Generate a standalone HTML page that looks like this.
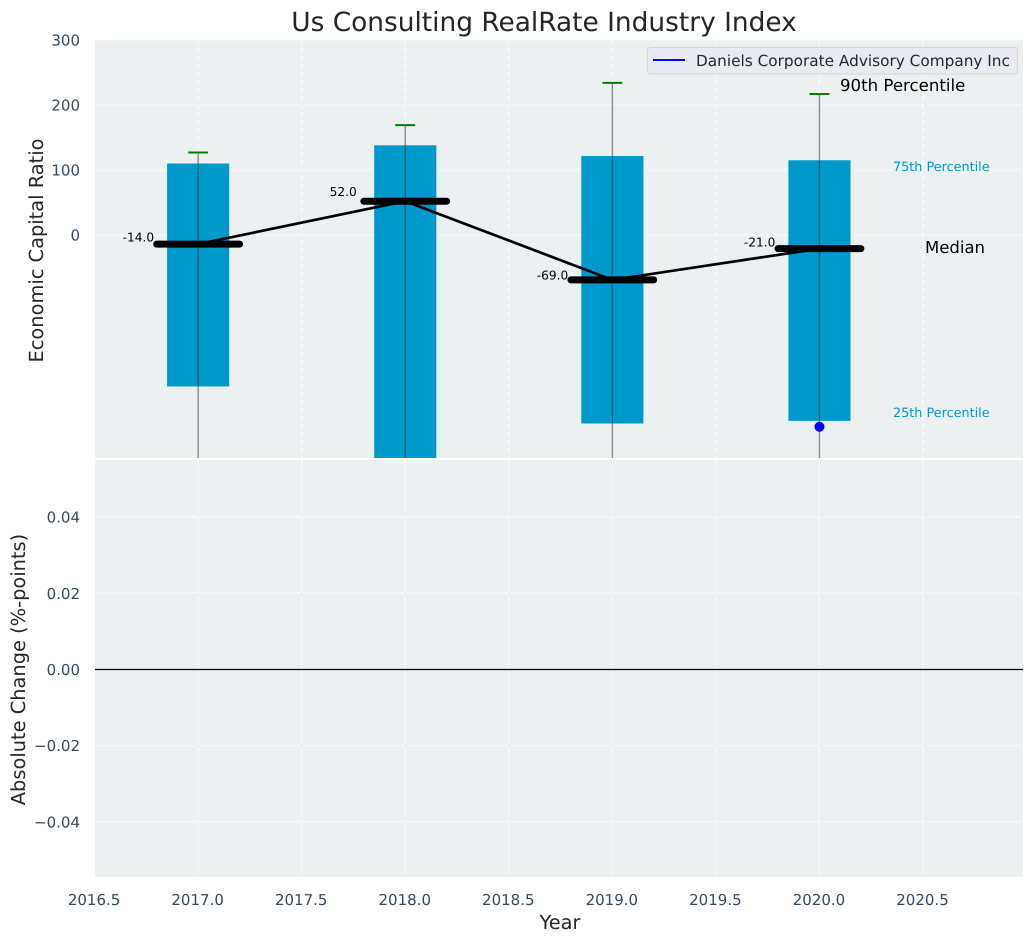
<!DOCTYPE html>
<html lang="en">
<head>
<meta charset="utf-8">
<title>Us Consulting RealRate Industry Index</title>
<style>
html,body{margin:0;padding:0;background:#fff;width:1034px;height:942px;overflow:hidden}
svg{display:block;font-family:"DejaVu Sans","Liberation Sans",sans-serif;text-rendering:geometricPrecision}
</style>
</head>
<body>
<svg id="chart" xmlns="http://www.w3.org/2000/svg" width="1034" height="942" viewBox="0 0 1034 942">
  <defs>
    <clipPath id="clip-top"><rect x="95" y="40" width="928" height="418"/></clipPath>
    <clipPath id="clip-bottom"><rect x="95" y="460" width="928" height="417"/></clipPath>
  </defs>
  <rect x="95" y="40" width="928" height="418" fill="#ecf0f1"/>
  <rect x="95" y="460" width="928" height="417" fill="#ecf0f1"/>
  <g id="grid-top"></g>
  <g id="grid-bottom"></g>
  <g id="marks-top" clip-path="url(#clip-top)"></g>
  <g id="marks-bottom" clip-path="url(#clip-bottom)"></g>
  <g id="ticks"></g>
  <g id="value-labels"></g>

  <text x="544" y="31" font-size="26.4" fill="#262626" text-anchor="middle">Us Consulting RealRate Industry Index</text>
  <text transform="translate(43,250.5) rotate(-90)" font-size="19.4" fill="#262626" text-anchor="middle">Economic Capital Ratio</text>
  <text transform="translate(25,669.5) rotate(-90)" font-size="19.4" fill="#262626" text-anchor="middle">Absolute Change (%-points)</text>
  <text x="560" y="929" font-size="19.4" fill="#262626" text-anchor="middle">Year</text>

  <text x="840" y="91" font-size="16.6" fill="#000">90th Percentile</text>
  <text x="893" y="171" font-size="12.8" fill="#0099cc">75th Percentile</text>
  <text x="925" y="253" font-size="16.5" fill="#000">Median</text>
  <text x="893" y="417" font-size="12.8" fill="#0099cc">25th Percentile</text>

  <g>
    <rect x="647.5" y="47.5" width="370" height="26.5" rx="3" fill="#eaeaf2" stroke="#d6d6dc" stroke-width="1"/>
    <line x1="653" y1="60" x2="685" y2="60" stroke="#0000ff" stroke-width="2"/>
    <text x="696" y="66" font-size="15.3" fill="#262626">Daniels Corporate Advisory Company Inc</text>
  </g>
</svg>
<script>
// Chart data
var years = [2017, 2018, 2019, 2020];
var p90 = [127, 169, 234, 217];
var p75 = [110, 138, 121.5, 115];
var medians = [-14, 52, -69, -21];
var p25 = [-233, -350, -290, -286];
var p10 = [-400, -420, -410, -400];
var companyYears = [2020];
var companyValues = [-295];
var xTickLabels = [2016.5, 2017, 2017.5, 2018, 2018.5, 2019, 2019.5, 2020, 2020.5];
var yTopTickLabels = [0, 100, 200, 300];
var yBottomTickLabels = [-0.04, -0.02, 0, 0.02, 0.04];
var changeZero = [0];

var NS = 'http://www.w3.org/2000/svg';
function xScale(v) { return 94.6 + (v - 2016.5) * 207.1; }
function yTop(v) { return 235 - v * 0.65; }
function yBottom(v) { return 669.5 - v * 3812; }
function make(tag, parent, attrs, text) {
  var el = document.createElementNS(NS, tag);
  for (var k in attrs) el.setAttribute(k, attrs[k]);
  if (text !== undefined) el.textContent = text;
  parent.appendChild(el);
  return el;
}
var gridTop = document.getElementById('grid-top');
var gridBottom = document.getElementById('grid-bottom');
var marksTop = document.getElementById('marks-top');
var marksBottom = document.getElementById('marks-bottom');
var ticks = document.getElementById('ticks');
var valueLabels = document.getElementById('value-labels');
var gridStyle = { stroke: '#ffffff', 'stroke-width': 1.1, 'stroke-dasharray': '5 3', opacity: 0.9 };
function withGrid(o) { for (var k in gridStyle) o[k] = gridStyle[k]; return o; }

// Vertical gridlines and x tick labels
xTickLabels.forEach(function (t) {
  var x = xScale(t);
  var a = make('line', gridTop, withGrid({ x1: x, x2: x, y1: 40, y2: 458 }));
  
  
  var b = make('line', gridBottom, withGrid({ x1: x, x2: x, y1: 460, y2: 877 }));
  
  
  var l = make('text', ticks, { x: x - 0.5, y: 905, 'font-size': 15, fill: '#34495e', 'text-anchor': 'middle' }, t.toFixed(1));
  
  
});

// Top axis horizontal gridlines and labels
yTopTickLabels.forEach(function (t) {
  var y = yTop(t);
  var a = make('line', gridTop, withGrid({ x1: 95, x2: 1023, y1: y, y2: y }));
  
  
  var l = make('text', ticks, { x: 80, y: y + 5.5, 'font-size': 15, fill: '#34495e', 'text-anchor': 'end' }, String(t));
  
  
});

// Bottom axis horizontal gridlines and labels
yBottomTickLabels.forEach(function (t) {
  var y = yBottom(t);
  var a = make('line', gridBottom, withGrid({ x1: 95, x2: 1023, y1: y, y2: y }));
  
  
  var txt = (t < 0 ? '\u2212' : '') + Math.abs(t).toFixed(2);
  var l = make('text', ticks, { x: 80, y: y + 5.5, 'font-size': 15, fill: '#34495e', 'text-anchor': 'end' }, txt);
  
  
});

// Interquartile bars
years.forEach(function (yr, i) {
  var top = yTop(p75[i]);
  var bot = yTop(p25[i]);
  var r = make('rect', marksTop, { x: xScale(yr - 0.15), y: top, width: xScale(yr + 0.15) - xScale(yr - 0.15), height: bot - top, fill: '#0099cc' });
  
  
});

// Whiskers
years.forEach(function (yr, i) {
  var w = make('line', marksTop, { x1: xScale(yr), x2: xScale(yr), y1: yTop(p90[i]), y2: yTop(p10[i]), stroke: '#333333', 'stroke-opacity': 0.55, 'stroke-width': 1.4 });
  
  
  var c = make('line', marksTop, { x1: xScale(yr - 0.048), x2: xScale(yr + 0.048), y1: yTop(p90[i]), y2: yTop(p90[i]), stroke: '#008000', 'stroke-width': 2 });
  
  
});

// Median connecting line
var medianPoints = years.map(function (yr, i) { return xScale(yr) + ',' + yTop(medians[i]); }).join(' ');
var ml = make('polyline', marksTop, { points: medianPoints, fill: 'none', stroke: '#000', 'stroke-width': 2.7, 'stroke-linejoin': 'round' });



// Median bars and labels
years.forEach(function (yr, i) {
  var y = yTop(medians[i]);
  var m = make('line', marksTop, { x1: xScale(yr - 0.2), x2: xScale(yr + 0.2), y1: y, y2: y, stroke: '#000', 'stroke-width': 7, 'stroke-linecap': 'round' });
  
  
  var t = make('text', valueLabels, { x: xScale(yr - 0.365), y: y - 3 - medians[i] * 0.04, 'font-size': 12.2, fill: '#000' }, medians[i].toFixed(1));
  
  
});

// Company series
companyYears.forEach(function (yr, i) {
  var d = make('circle', marksTop, { cx: xScale(yr), cy: yTop(companyValues[i]), r: 5, fill: '#0000ff' });
  
  
});

// Zero reference line on lower panel
changeZero.forEach(function (v) {
  var z = make('line', marksBottom, { x1: 95, x2: 1023, y1: yBottom(v), y2: yBottom(v), stroke: '#000', 'stroke-width': 1.3 });
  
  
});
</script>
</body>
</html>
